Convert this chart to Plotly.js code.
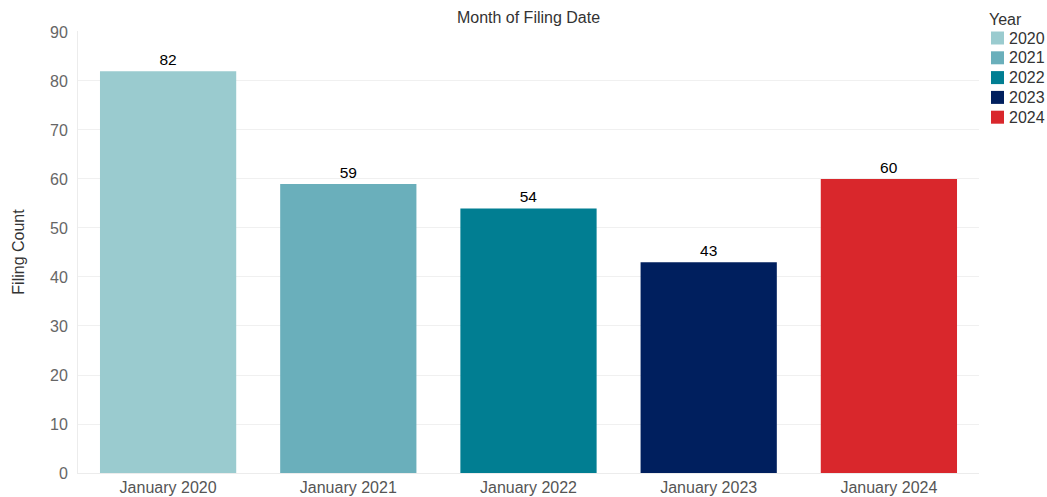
<!DOCTYPE html>
<html>
<head>
<meta charset="utf-8">
<script src="https://cdn.plot.ly/plotly-3.0.1.min.js"></script>
<style>html,body{margin:0;padding:0;background:#fff;} #chart{width:1047px;height:497px;}</style>
</head>
<body>
<div id="chart"></div>
<script>
const categories = ["January 2020", "January 2021", "January 2022", "January 2023", "January 2024"];
const years = ["2020", "2021", "2022", "2023", "2024"];
const counts = [82, 59, 54, 43, 60];
const colors = ["#9ACBCF", "#6AAFBB", "#017E92", "#001F5E", "#D9272C"];
const yTicks = [0, 10, 20, 30, 40, 50, 60, 70, 80, 90];

const W = 1047, H = 497;
const M = {l: 78, r: 68, t: 31, b: 24};
const PW = W - M.l - M.r, PH = H - M.t - M.b;
const px = x => (x - M.l) / PW;          // pixel -> paper x
const py = y => (H - M.b - y) / PH;      // pixel -> paper y

const FONT = "Arial, Liberation Sans, sans-serif";

const traces = years.map((yr, i) => ({
  type: "bar",
  name: yr,
  x: [categories[i]],
  y: [counts[i]],
  marker: {color: colors[i]},
  text: [String(counts[i])],
  textposition: "outside",
  textfont: {family: FONT, size: 15.5, color: "#000"},
  cliponaxis: false,
  showlegend: false,
  hoverinfo: "x+y"
}));

// Legend drawn as layout items (Tableau-style compact legend)
const legendTop = 38, legendStep = 19.8, sw = 13;
const shapes = years.map((yr, i) => {
  const cy = legendTop + i * legendStep;
  return {type: "rect", xref: "paper", yref: "paper",
          x0: px(991), x1: px(991 + sw), y0: py(cy + sw / 2), y1: py(cy - sw / 2),
          fillcolor: colors[i], line: {width: 0}};
});
const annotations = years.map((yr, i) => ({
  xref: "paper", yref: "paper", x: px(1007), y: py(legendTop + i * legendStep),
  xanchor: "left", yanchor: "middle", text: yr, showarrow: false,
  font: {family: FONT, size: 16, color: "#333"}
}));
annotations.push({
  xref: "paper", yref: "paper", x: px(987), y: py(19),
  xanchor: "left", yanchor: "middle", text: "Year", showarrow: false,
  font: {family: FONT, size: 16, color: "#333"}
});

const layout = {
  width: W, height: H,
  margin: {l: M.l, r: M.r, t: M.t, b: M.b, pad: 0},
  paper_bgcolor: "#fff", plot_bgcolor: "#fff",
  font: {family: FONT, color: "#555", size: 16},
  barmode: "overlay",
  bargap: 0.244,
  showlegend: false,
  title: {text: "Month of Filing Date", x: 0.5, xref: "paper", y: 1 - 17 / H, yanchor: "middle",
          font: {size: 16, color: "#333"}},
  xaxis: {
    categoryorder: "array", categoryarray: categories,
    showgrid: false, showline: true, linecolor: "#ececec", linewidth: 1,
    ticks: "", tickfont: {size: 16, color: "#555"}, automargin: false, fixedrange: true
  },
  yaxis: {
    range: [0, 90.2], tickvals: yTicks, ticktext: yTicks.map(String),
    showgrid: true, gridcolor: "#f0f0f0", gridwidth: 1,
    showline: true, linecolor: "#ececec", zeroline: false,
    ticks: "", ticklabelstandoff: 6,
    tickfont: {size: 16, color: "#666"},
    title: {text: "Filing Count", font: {size: 16, color: "#333"}, standoff: 21},
    automargin: false, fixedrange: true
  },
  shapes: shapes,
  annotations: annotations
};

Plotly.newPlot("chart", traces, layout, {displayModeBar: false, staticPlot: true});
</script>
</body>
</html>
